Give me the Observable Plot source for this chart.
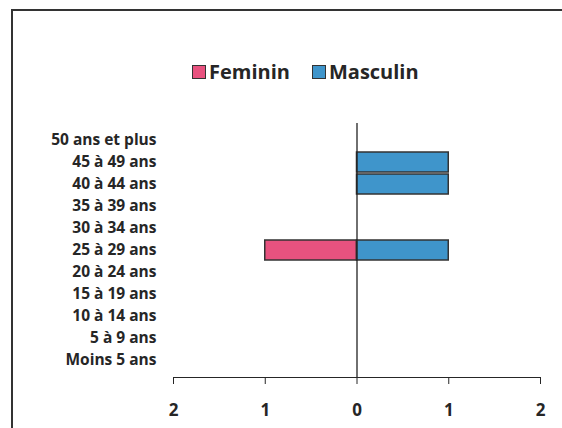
<!DOCTYPE html>
<html>
<head>
<meta charset="utf-8">
<script src="https://cdn.jsdelivr.net/npm/d3@7"></script>
<script src="https://cdn.jsdelivr.net/npm/@observablehq/plot@0.6"></script>
<style>
  html, body { margin: 0; padding: 0; background: #fff; }
  #wrap { position: relative; width: 562px; height: 428px; overflow: hidden; font-family: "Open Sans", sans-serif; }
  #border { position: absolute; left: 11px; top: 9px; width: 600px; height: 460px; border-left: 2px solid #333; border-top: 2px solid #333; box-sizing: border-box; }
  #legend { position: absolute; left: 192px; top: 58px; display: flex; align-items: center; font-weight: bold; font-size: 20px; color: #262626; }
  #legend .item { display: flex; align-items: center; }
  #legend .sw { width: 12px; height: 12px; border: 1.5px solid #333; margin-right: 3px; }
  #chart { position: absolute; left: 0; top: 0; }
  .pyr [aria-label^="x-axis"] text { font-size: 17px; }
  .pyr [aria-label^="y-axis"] text { font-size: 15.5px; }
</style>
</head>
<body>
<div id="wrap">
  <div id="border"></div>
  <div id="legend"></div>
  <div id="chart"></div>
</div>
<script>
const categories = ["Moins 5 ans", "5 à 9 ans", "10 à 14 ans", "15 à 19 ans", "20 à 24 ans",
  "25 à 29 ans", "30 à 34 ans", "35 à 39 ans", "40 à 44 ans", "45 à 49 ans", "50 ans et plus"];
const feminin  = [0, 0, 0, 0, 0, 1, 0, 0, 0, 0, 0];
const masculin = [0, 0, 0, 0, 0, 1, 0, 0, 1, 1, 0];
const xTicks = [-2, -1, 0, 1, 2];
const seriesNames = ["Feminin", "Masculin"];
const seriesColors = ["#e8527f", "#3f95cb"];

const rows = [];
categories.forEach((c, i) => {
  if (feminin[i]) rows.push({age: c, sexe: "Feminin", value: -feminin[i]});
  if (masculin[i]) rows.push({age: c, sexe: "Masculin", value: masculin[i]});
});

const legend = document.getElementById("legend");
seriesNames.forEach((n, i) => {
  const it = document.createElement("div");
  it.className = "item";
  if (i > 0) it.style.marginLeft = "22px";
  const sw = document.createElement("div");
  sw.className = "sw";
  sw.style.background = seriesColors[i];
  const t = document.createElement("span");
  t.textContent = n;
  it.appendChild(sw); it.appendChild(t);
  legend.appendChild(it);
});

const chart = Plot.plot({
  width: 562,
  height: 428,
  marginTop: 123,
  marginBottom: 51,
  marginLeft: 173,
  marginRight: 22,
  className: "pyr",
  style: {fontFamily: "Open Sans", fontWeight: "bold", color: "#262626", background: "transparent", overflow: "visible"},
  x: {domain: [-2, 2], ticks: xTicks, tickFormat: d => Math.abs(d), tickSize: 7, tickPadding: 19, label: null, line: true},
  y: {domain: categories.slice().reverse(), padding: 0.08, tickSize: 0, tickPadding: 17, label: null},
  color: {domain: seriesNames, range: seriesColors},
  marks: [
    Plot.barX(rows, {x: "value", y: "age", fill: "sexe", stroke: "#333", strokeWidth: 1.5}),
    Plot.ruleX([0], {stroke: "#222", strokeWidth: 1.3})
  ]
});
document.getElementById("chart").appendChild(chart);
</script>
</body>
</html>
